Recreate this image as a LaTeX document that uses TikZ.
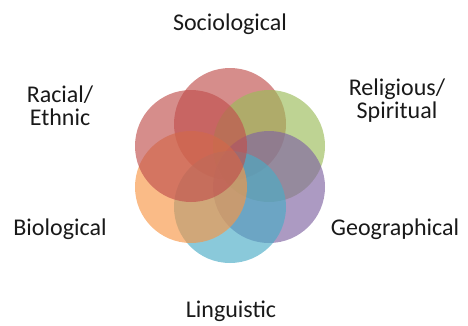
\documentclass[tikz,border=0pt]{standalone}
\usepackage{fontspec}
\setmainfont{Carlito}

\definecolor{petalred}{HTML}{C0504D}
\definecolor{petalgreen}{HTML}{9BBB59}
\definecolor{petalpurple}{HTML}{8064A2}
\definecolor{petalaqua}{HTML}{4BACC6}
\definecolor{petalorange}{HTML}{F79646}

\tikzset{
  petal/.style={circle, minimum size=112pt, inner sep=0pt, fill opacity=0.65},
  tag/.style={font=\fontsize{24}{23}\selectfont, text=black!90, align=center}
}

\begin{document}
\begin{tikzpicture}[x=1pt, y=-1pt]
    \useasboundingbox (0,0) rectangle (468,325);

    % petals, clockwise from the top
    \node[petal, fill=petalred]    (soc) at (230,124) {};
    \node[petal, fill=petalgreen]  (rel) at (269,146) {};
    \node[petal, fill=petalpurple] (geo) at (269,187) {};
    \node[petal, fill=petalaqua]   (lin) at (230,207) {};
    \node[petal, fill=petalorange] (bio) at (191,187) {};
    \node[petal, fill=petalred]    (rac) at (191,146) {};

    % labels
    \node[tag] (soclabel) at (230,24) {Sociological};
    \node[tag] (rellabel) at (397,101) {Religious/\\Spiritual};
    \node[tag] (geolabel) at (395,229) {Geographical};
    \node[tag] (linlabel) at (231,311) {Linguistic};
    \node[tag] (biolabel) at (60,229) {Biological};
    \node[tag] (raclabel) at (60,106) {Racial/\\Ethnic};
\end{tikzpicture}
\end{document}
